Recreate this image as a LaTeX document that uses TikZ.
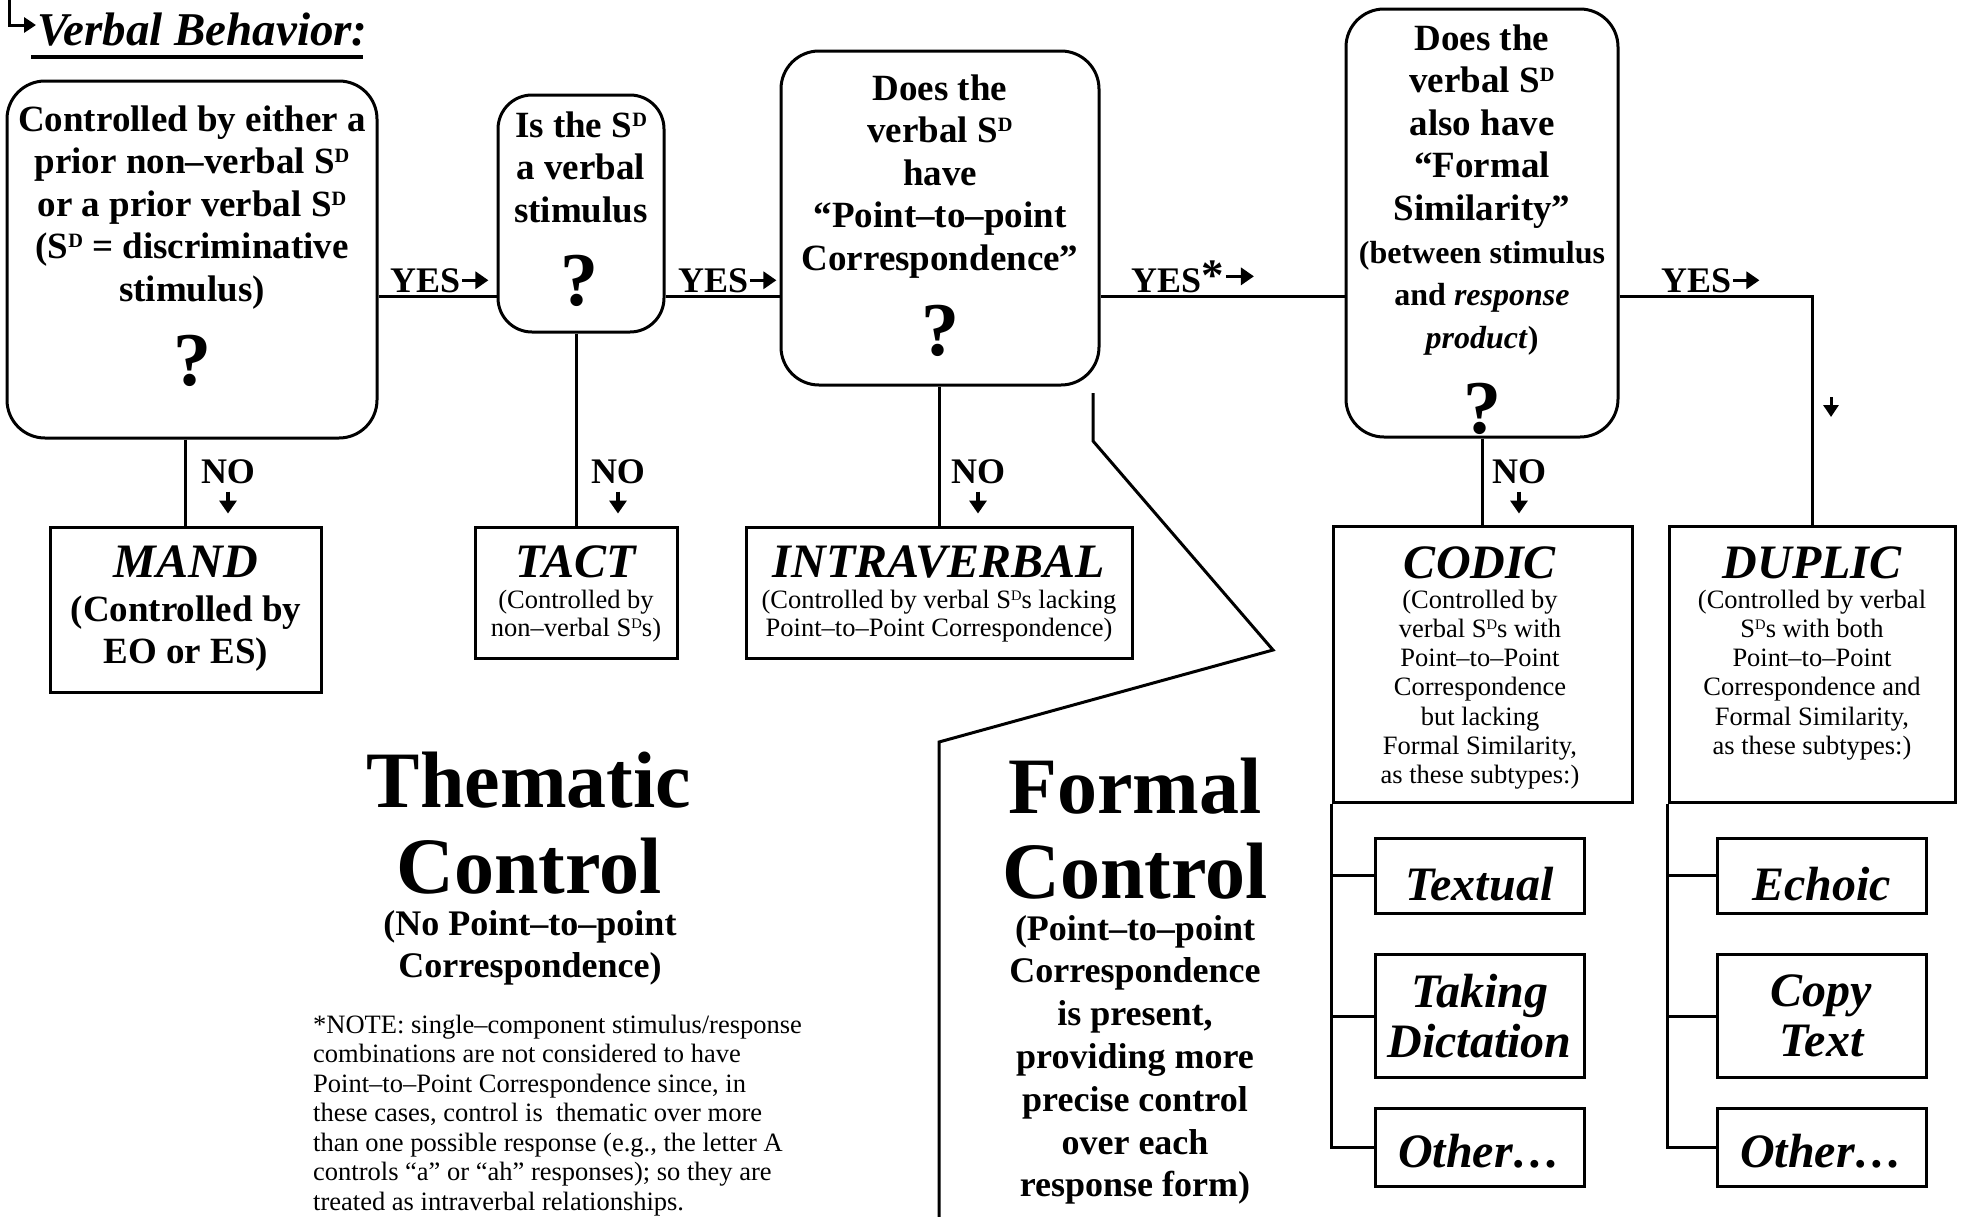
\documentclass[tikz,border=0pt]{standalone}
\usepackage{fontspec}
\usepackage{graphicx}
\setmainfont{Liberation Serif}
\usetikzlibrary{arrows.meta}
\newcommand{\fsz}[2]{\fontsize{#1}{#2}\selectfont}
\newcommand{\SDs}{S\raisebox{0.3em}{\scalebox{0.55}{D}}}
\begin{document}
\begin{tikzpicture}[x=1pt,y=-1pt,
  conn/.style={line width=3pt},
  qbox/.style={draw,line width=3pt,rounded corners=38pt,inner sep=0pt},
  rbox/.style={draw,line width=3pt,inner sep=0pt},
  tx/.style={inner sep=0pt,align=center,anchor=north},
  qfont/.style={font=\fsz{37}{42.5}\bfseries},
  sfont/.style={font=\fsz{26.5}{28}},
  cfont/.style={font=\fsz{26.5}{29.2}},
  tfont/.style={font=\fsz{48}{50}\bfseries\itshape},
  qmark/.style={inner sep=0pt,anchor=base,font=\fsz{76}{80}\bfseries},
  lab/.style={inner sep=0pt,font=\fsz{36}{40}\bfseries},
  yarrow/.style={-{Triangle[length=13pt,width=17pt]},line width=3.5pt},
]
\useasboundingbox (0,0) rectangle (1965,1216);

% title
\node[inner sep=0pt,anchor=base west,font=\fsz{47}{50}\bfseries\itshape] (title) at (37,45) {Verbal Behavior:};
\coordinate (tstart) at (9,0);
\coordinate (tbend) at (9,25);
\coordinate (ttip) at (36,25);
\draw[line width=3pt,-{Triangle[length=12pt,width=15pt]}] (tstart) -- (tbend) -- (ttip);
\draw[line width=3.5pt] ([shift={(-6,12)}]title.base west) -- ([shift={(-5,12)}]title.base east);

% question boxes
\node[qbox,minimum width=370pt,minimum height=357pt] (q1) at (192,259.5) {};
\node[tx,qfont] (q1t) at (192,101.4) {\strut Controlled by either a\\prior non–verbal \SDs\\or a prior verbal \SDs\\(\SDs{} = discriminative\\stimulus)};
\node[qmark] (q1m) at (192,385) {?};

\node[qbox,rounded corners=34pt,minimum width=166pt,minimum height=237pt] (q2) at (581,213.5) {};
\node[tx,qfont] (q2t) at (581,107.4) {\strut Is the \SDs\\a verbal\\stimulus};
\node[qmark] (q2m) at (579,305) {?};

\node[qbox,minimum width=318pt,minimum height=334pt] (q3) at (940,218) {};
\node[tx,qfont] (q3t) at (940,70.25) {\strut Does the\\verbal \SDs\\have\\“Point–to–point\\Correspondence”};
\node[qmark] (q3m) at (940,355) {?};

\node[qbox,minimum width=272pt,minimum height=428pt] (q4) at (1482,223) {};
\node[tx,qfont] (q4t) at (1482,20.25) {\strut Does the\\verbal \SDs\\also have\\“Formal\\Similarity”};
\node[tx,font=\fsz{32}{42.5}\bfseries] (q4s) at (1482,233.25) {\strut (between stimulus\\and \textit{response}\\\textit{product})};
\node[qmark] (q4m) at (1482,433) {?};

% result boxes
\node[rbox,minimum width=271pt,minimum height=165pt] (mand) at (185.5,609.5) {};
\node[tx,tfont,anchor=base] (mandt) at (186,577) {MAND};
\node[tx,qfont] (mands) at (186,591.25) {\strut(Controlled by\\EO or ES)};

\node[rbox,minimum width=202pt,minimum height=131pt] (tact) at (576,592.5) {};
\node[tx,tfont,anchor=base] (tactt) at (576,577) {TACT};
\node[tx,sfont] (tacts) at (576,588.4) {\strut(Controlled by\\non–verbal \SDs{}s)};

\node[rbox,minimum width=386pt,minimum height=131pt] (intra) at (939,592.5) {};
\node[tx,tfont,anchor=base] (intrat) at (939,577) {INTRAVERBAL};
\node[tx,sfont] (intras) at (939,588.4) {\strut(Controlled by verbal \SDs{}s lacking\\Point–to–Point Correspondence)};

\node[rbox,minimum width=299pt,minimum height=276pt] (codic) at (1482.5,664) {};
\node[tx,tfont,anchor=base] (codict) at (1480,578) {CODIC};
\node[tx,cfont] (codics) at (1480,587.6) {\strut(Controlled by\\verbal \SDs{}s with\\Point–to–Point\\Correspondence\\but lacking\\Formal Similarity,\\as these subtypes:)};

\node[rbox,minimum width=286pt,minimum height=276pt] (duplic) at (1812,664) {};
\node[tx,tfont,anchor=base] (duplict) at (1812,578) {DUPLIC};
\node[tx,cfont] (duplics) at (1812,587.6) {\strut(Controlled by verbal\\\SDs{}s with both\\Point–to–Point\\Correspondence and\\Formal Similarity,\\as these subtypes:)};

% subtypes
\node[rbox,tfont,minimum width=209pt,minimum height=75pt,text height=49pt,text depth=0pt] (tex) at (1479.5,875.5) {Textual};
\node[rbox,tfont,align=center,minimum width=209pt,minimum height=123pt] (dict) at (1479.5,1016) {Taking\\Dictation};
\node[rbox,tfont,minimum width=209pt,minimum height=78pt,text height=40pt,text depth=0pt] (oth1) at (1479.5,1147) {Other…};
\node[rbox,tfont,minimum width=209pt,minimum height=75pt,text height=49pt,text depth=0pt] (echo) at (1821.5,875.5) {Echoic};
\node[rbox,tfont,align=center,minimum width=209pt,minimum height=123pt] (copy) at (1821.5,1016) {Copy\\Text};
\node[rbox,tfont,minimum width=209pt,minimum height=78pt,text height=40pt,text depth=0pt] (oth2) at (1821.5,1147) {Other…};

% YES connectors
\coordinate (yl) at (0,296);
\draw[conn] (q1.east |- yl) -- (q2.west |- yl);
\draw[conn] (q2.east |- yl) -- (q3.west |- yl);
\draw[conn] (q3.east |- yl) -- (q4.west |- yl);
\draw[conn] (q4.east |- yl) -- (duplic.north |- yl) -- (duplic.north);

\node[lab,anchor=base west] (y1) at (390,292) {YES};
\draw[yarrow] ([xshift=2pt]y1.east) -- ++(26,0);
\node[lab,anchor=base west] (y2) at (678,292) {YES};
\draw[yarrow] ([xshift=2pt]y2.east) -- ++(26,0);
\node[lab,anchor=base west] (y3) at (1131,292) {YES\raisebox{2pt}{\scalebox{1.25}{*}}};
\draw[yarrow] ([xshift=2pt]y3.east) -- ++(28,0);
\node[lab,anchor=base west] (y4) at (1661,292) {YES};
\draw[yarrow] ([xshift=2pt]y4.east) -- ++(26,0);

\coordinate (da) at (1831,397);
\draw[line width=3pt,-{Triangle[length=12pt,width=15pt]}] (da) -- ++(0,20);

% NO connectors
\draw[conn] (mand.north |- q1.south) -- (mand.north);
\draw[conn] (tact.north |- q2.south) -- (tact.north);
\draw[conn] (intra.north |- q3.south) -- (intra.north);
\draw[conn] (codic.north |- q4.south) -- (codic.north);

\node[lab,anchor=base] (n1) at (228,483) {NO};
\draw[yarrow] ([yshift=-8pt]n1.south) -- ++(0,22);
\node[lab,anchor=base] (n2) at (618,483) {NO};
\draw[yarrow] ([yshift=-8pt]n2.south) -- ++(0,22);
\node[lab,anchor=base] (n3) at (978,483) {NO};
\draw[yarrow] ([yshift=-8pt]n3.south) -- ++(0,22);
\node[lab,anchor=base] (n4) at (1519,483) {NO};
\draw[yarrow] ([yshift=-8pt]n4.south) -- ++(0,22);

% subtype connectors
\draw[conn] (codic.south west) -- (codic.south west |- oth1.west) -- (oth1.west);
\draw[conn] (codic.south west |- tex.west) -- (tex.west);
\draw[conn] (codic.south west |- dict.west) -- (dict.west);
\draw[conn] (duplic.south west) -- (duplic.south west |- oth2.west) -- (oth2.west);
\draw[conn] (duplic.south west |- echo.west) -- (echo.west);
\draw[conn] (duplic.south west |- copy.west) -- (copy.west);

% divider
\coordinate (d1) at (1093,393);
\coordinate (d2) at (1093,441);
\coordinate (d3) at (1273,650);
\coordinate (d4) at (939,742);
\coordinate (d5) at (939,1220);
\draw[conn] (d1) -- (d2) -- (d3) -- (d4) -- (d5);

% thematic / formal
\node[tx,font=\fsz{80}{86}\bfseries] (them) at (529,746.8) {\strut Thematic\\Control};
\node[tx,font=\fsz{36}{42}\bfseries] (thems) at (530,905.6) {\strut(No Point–to–point\\Correspondence)};
\node[tx,font=\fsz{80}{85}\bfseries] (form) at (1135,753.5) {\strut Formal\\Control};
\node[tx,font=\fsz{36}{42.8}\bfseries] (forms) at (1135,910) {\strut(Point–to–point\\Correspondence\\is present,\\providing more\\precise control\\over each\\response form)};

\node[inner sep=0pt,align=left,anchor=north west,font=\fsz{26.5}{29.5}] (note) at (313,1012.35) {\strut *NOTE: single–component stimulus/response\\combinations are not considered to have\\Point–to–Point Correspondence since, in\\these cases, control is\ \ thematic over more\\than one possible response (e.g., the letter A\\controls “a” or “ah” responses); so they are\\treated as intraverbal relationships.};
\end{tikzpicture}
\end{document}
